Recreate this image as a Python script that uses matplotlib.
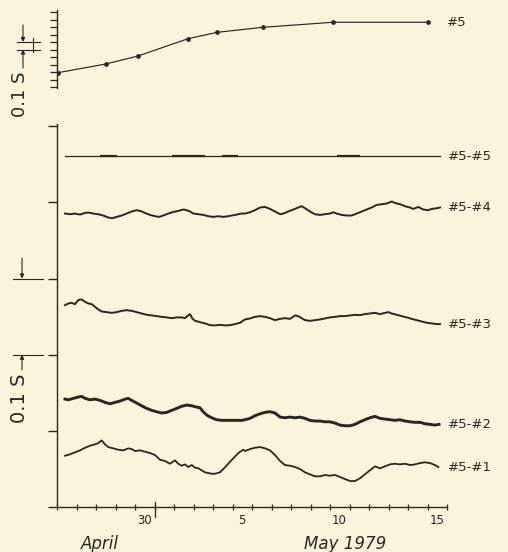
import matplotlib.pyplot as plt
from matplotlib.transforms import ScaledTranslation, blended_transform_factory

# x: days counted from 30 April 1979 (0 = Apr 30, 5 = May 5 ...)
# y: delay in milliseconds (top panel: station #5, bottom: differences)

station5_day = [-4.95, -2.49, -0.85, 1.72, 3.21, 5.56, 9.15, 14.03]
station5_ms = [191, 307, 413, 644, 729, 796, 863, 863]

diff55_level = 460.6
diff55_span = [-4.59, 14.64]
diff55_thick_start = [-2.79, 0.90, 3.46, 9.36]
diff55_thick_end = [-1.92, 2.59, 4.28, 10.54]

diff54_day = [-4.59, -4.33, -4.08, -3.82, -3.56, -3.39, -3.14, -2.88, -2.63, -2.37,
              -2.16, -1.94, -1.68, -1.43, -1.17, -0.91, -0.69, -0.49, -0.23, 0.03,
              0.23, 0.45, 0.71, 0.96, 1.22, 1.48, 1.65, 1.82, 1.99, 2.25,
              2.50, 2.76, 3.02, 3.27, 3.53, 3.78, 4.13, 4.47,
              4.64, 4.90, 5.15, 5.41, 5.67, 5.92, 6.18, 6.44, 6.61, 6.86,
              7.12, 7.37, 7.55, 7.72, 7.97, 8.23, 8.49, 8.74, 9.00, 9.17,
              9.34, 9.60, 9.86, 10.11, 10.37, 10.63, 10.88, 11.14, 11.39, 11.65,
              11.91, 12.16, 12.33, 12.59, 12.85, 13.10, 13.27, 13.53, 13.78, 14.04,
              14.22, 14.47, 14.64]
diff54_ms = [385.4, 384.5, 385.4, 384.1, 386.2, 386.7, 385.4, 384.5, 382.8, 380.2,
             379.3, 381.0, 382.8, 385.4, 388.1, 389.8, 388.5, 386.2, 383.6, 381.9,
             381.0, 382.8, 385.4, 387.5, 388.8, 390.7, 389.8, 388.1, 385.4, 384.5,
             383.6, 381.9, 381.0, 381.9, 381.0, 381.9, 383.6, 385.4,
             385.4, 387.1, 389.8, 393.3, 394.1, 391.5, 388.1, 384.5, 385.4, 388.1,
             390.7, 393.3, 395.0, 392.4, 388.1, 384.5, 383.6, 384.5, 385.4, 387.1,
             385.4, 383.6, 382.8, 382.8, 385.4, 388.1, 390.7, 393.3, 396.7, 397.6,
             398.6, 401.2, 399.3, 397.6, 395.0, 393.3, 391.5, 394.1, 390.7, 389.8,
             391.5, 392.4, 393.3]

diff53_day = [-4.59, -4.42, -4.25, -4.08, -3.91, -3.74, -3.56, -3.39, -3.22, -3.05,
              -2.88, -2.71, -2.45, -2.19, -1.94, -1.68, -1.43, -1.17, -0.91, -0.66,
              -0.40, -0.14, 0.11, 0.37, 0.63, 0.88, 1.14, 1.39, 1.56, 1.73,
              1.82, 1.94, 2.08, 2.33, 2.59, 2.85, 3.10, 3.36, 3.62, 3.87,
              4.13, 4.38,
              4.64, 4.90, 5.15, 5.41, 5.67, 5.92, 6.18, 6.44, 6.69, 6.95,
              7.21, 7.37, 7.55, 7.72, 7.97, 8.23, 8.49, 8.74, 9.00, 9.26,
              9.51, 9.77, 10.03, 10.28, 10.54, 10.79, 11.05, 11.31, 11.56, 11.82,
              11.99, 12.16, 12.42, 12.68, 12.93, 13.19, 13.44, 13.70, 13.96, 14.22,
              14.47, 14.64]
diff53_ms = [265.1, 267.3, 268.1, 266.4, 271.7, 272.6, 269.4, 267.3, 266.4, 262.9,
             259.4, 256.8, 255.9, 255.0, 255.9, 257.6, 258.5, 257.6, 255.9, 254.2,
             252.4, 251.6, 250.7, 249.7, 249.0, 248.0, 249.0, 249.0, 248.0, 251.6,
             253.3, 247.6, 244.5, 242.8, 241.1, 238.8, 238.5, 239.2, 238.5, 238.8,
             240.2, 241.9,
             246.3, 247.6, 249.7, 250.7, 249.7, 248.0, 245.4, 247.1, 248.0, 247.1,
             251.6, 250.7, 248.0, 245.4, 244.5, 245.4, 246.3, 247.6, 249.0, 249.7,
             250.7, 250.7, 251.6, 252.4, 252.0, 253.3, 254.2, 255.0, 253.3, 255.0,
             255.9, 254.2, 252.4, 250.7, 249.0, 247.1, 245.4, 243.7, 241.9, 241.1,
             240.2, 240.2]

diff52_day = [-4.59, -4.42, -4.16, -3.91, -3.74, -3.56, -3.31, -3.05, -2.79, -2.54,
              -2.28, -2.03, -1.77, -1.51, -1.34, -1.17, -0.91, -0.66, -0.40, -0.14,
              0.11, 0.37, 0.63, 0.88, 1.14, 1.39, 1.65, 1.91, 2.16, 2.33,
              2.50, 2.68, 2.93, 3.19, 3.45, 3.78, 4.13, 4.47,
              4.64, 4.90, 5.15, 5.41, 5.67, 5.92, 6.18, 6.44, 6.69, 6.95,
              7.21, 7.46, 7.72, 7.97, 8.23, 8.49, 8.74, 9.00, 9.26, 9.51,
              9.77, 10.03, 10.28, 10.54, 10.79, 11.05, 11.31, 11.56, 11.82, 12.08,
              12.33, 12.59, 12.85, 13.10, 13.36, 13.62, 13.87, 14.13, 14.38, 14.59]
diff52_ms = [141.7, 140.8, 142.7, 144.4, 145.3, 142.7, 140.8, 141.7, 140.0, 137.4,
             135.6, 137.4, 139.1, 141.7, 142.7, 140.0, 136.5, 132.9, 129.5, 126.9,
             125.1, 123.4, 124.3, 126.9, 129.5, 132.2, 133.9, 132.9, 131.2, 130.3,
             125.1, 120.7, 117.2, 114.6, 113.8, 113.8, 113.8, 113.8,
             114.6, 116.4, 119.8, 122.4, 124.3, 125.1, 123.4, 118.1, 117.2, 118.1,
             117.2, 118.1, 116.4, 113.8, 112.9, 112.9, 111.9, 111.9, 110.2, 107.6,
             106.7, 106.7, 108.5, 111.9, 114.6, 117.2, 119.0, 116.4, 115.5, 114.6,
             113.8, 114.6, 112.9, 111.9, 111.2, 111.2, 109.3, 108.5, 107.6, 108.5]

diff51_day = [-4.59, -4.33, -4.08, -3.82, -3.56, -3.31, -3.05, -2.88, -2.71, -2.54,
              -2.37, -2.11, -1.86, -1.60, -1.34, -1.17, -1.00, -0.74, -0.49, -0.23,
              0.03, 0.28, 0.54, 0.79, 1.05, 1.22, 1.39, 1.56, 1.73, 1.91,
              2.08, 2.25, 2.42, 2.59, 2.76, 2.93, 3.10, 3.36, 3.53, 3.78,
              4.04, 4.30, 4.55,
              4.64, 4.90, 5.15, 5.41, 5.67, 5.92, 6.18, 6.44, 6.69, 6.95,
              7.21, 7.46, 7.72, 7.97, 8.23, 8.49, 8.74, 9.00, 9.26, 9.51,
              9.77, 10.03, 10.28, 10.54, 10.79, 11.05, 11.31, 11.56, 11.82, 12.08,
              12.33, 12.59, 12.85, 13.10, 13.36, 13.62, 13.87, 14.13, 14.38, 14.56]
diff51_ms = [67.3, 69.2, 71.8, 74.4, 77.8, 80.4, 82.3, 84.0, 87.5, 82.3,
             78.7, 77.0, 75.2, 74.4, 77.0, 76.1, 73.5, 74.4, 72.6, 70.9,
             68.2, 62.1, 60.4, 56.8, 61.3, 56.8, 54.2, 56.0, 52.5, 55.1,
             51.6, 50.8, 48.2, 45.5, 44.6, 43.7, 43.7, 45.5, 49.9, 56.8,
             63.9, 70.9, 75.2,
             73.5, 76.1, 77.8, 78.7, 77.0, 74.4, 68.2, 60.4, 55.1, 54.2,
             52.5, 49.9, 45.5, 42.9, 40.3, 40.3, 42.0, 41.1, 42.0, 39.4,
             36.7, 34.1, 34.1, 37.7, 42.9, 48.2, 53.4, 50.8, 53.4, 56.0,
             56.8, 56.0, 56.8, 55.1, 56.0, 57.7, 58.7, 57.7, 55.1, 52.5]

day_ticks = [0, 5, 10, 15]
day_tick_labels = ["30", "5", "10", "15"]
month_labels = ["April", "May 1979"]
month_label_day = [-2.8, 9.77]

paper = "#fbf4dc"
ink = "#2a2622"

W, H = 508, 552
fig = plt.figure(figsize=(W / 100, H / 100), dpi=100, facecolor=paper)


def px_axes(left, top, right, bottom):
    return fig.add_axes([left / W, 1 - bottom / H, (right - left) / W, (bottom - top) / H])


ax_top = px_axes(57, 10, 447, 88)
ax = px_axes(57, 124, 447, 507)

for a in (ax_top, ax):
    a.set_facecolor("none")
    a.set_xlim(-5, 15)
    for s in a.spines.values():
        s.set_color(ink)
        s.set_linewidth(1.0)
    a.spines["top"].set_visible(False)
    a.spines["right"].set_visible(False)

# ---- top panel: station #5
ax_top.spines["bottom"].set_visible(False)
ax_top.set_ylim(-13.3, 1026.7)
ax_top.set_xticks([])
ax_top.set_yticks(range(0, 1001, 100))
ax_top.tick_params(axis="y", direction="out", length=5, width=0.9, color=ink, labelleft=False)
ax_top.plot(station5_day, station5_ms, color=ink, lw=0.85, marker="o", ms=2.4)
ax_top.text(15.0, station5_ms[-1], "#5", ha="left", va="center", fontsize=9.5, color=ink)

# ---- bottom panel: differences
ax.set_ylim(0, 503)
ax.set_yticks(range(0, 501, 100))
ax.tick_params(axis="y", direction="out", length=6.5, width=1.0, color=ink, labelleft=False)
ax.set_xticks(range(-5, 16), minor=True)
ax.set_xticks(day_ticks, day_tick_labels)
ax.tick_params(axis="x", which="both", direction="inout", length=5, width=0.9, color=ink,
               labelsize=8.5, labelcolor=ink, pad=2.5)
for lbl in ax.get_xticklabels():
    lbl.set_transform(lbl.get_transform() + ScaledTranslation(-0.10, 0, fig.dpi_scale_trans))
# longer tick at the month boundary
ax.axvline(0, ymin=-10 / 383, ymax=5 / 383, color=ink, lw=0.9, clip_on=False)

xt = ax.get_xaxis_transform()
for name, d in zip(month_labels, month_label_day):
    ax.text(d, -0.097, name, transform=xt, ha="center", va="center",
            fontsize=12, style="italic", color=ink)

ax.plot(diff55_span, [diff55_level, diff55_level], color=ink, lw=0.9)
ax.hlines([diff55_level] * len(diff55_thick_start), diff55_thick_start, diff55_thick_end,
          color=ink, lw=1.6)
ax.plot(diff54_day, diff54_ms, color=ink, lw=1.4, solid_joinstyle="round")
ax.plot(diff53_day, diff53_ms, color=ink, lw=1.4, solid_joinstyle="round")
ax.plot(diff52_day, diff52_ms, color=ink, lw=2.1, solid_joinstyle="round")
ax.plot(diff51_day, diff51_ms, color=ink, lw=1.3, solid_joinstyle="round")

label_names = ["#5-#5", "#5-#4", "#5-#3", "#5-#2", "#5-#1"]
label_levels = [diff55_level, diff54_ms[-1], diff53_ms[-1], diff52_ms[-1], diff51_ms[-1]]
for name, lev in zip(label_names, label_levels):
    ax.text(15.05, lev, name, ha="left", va="center", fontsize=9.5, color=ink)


# ---- 0.1 s scale marks on the left
def scale_mark(a, lo, hi, line_x, arrow_x, top_from, bottom_from, text_y, size, tick_x=None):
    tr = blended_transform_factory(a.transAxes, a.transData)
    for v in (lo, hi):
        a.plot(line_x, [v, v], transform=tr, color=ink, lw=0.8, clip_on=False)
    arrow = dict(arrowstyle="-|>", color=ink, lw=0.8, mutation_scale=6, shrinkA=0, shrinkB=0)
    a.annotate("", xy=(arrow_x, hi), xytext=(arrow_x, top_from),
               xycoords=("axes fraction", "data"), textcoords=("axes fraction", "data"),
               arrowprops=arrow, annotation_clip=False)
    a.annotate("", xy=(arrow_x, lo), xytext=(arrow_x, bottom_from),
               xycoords=("axes fraction", "data"), textcoords=("axes fraction", "data"),
               arrowprops=arrow, annotation_clip=False)
    if tick_x is not None:
        a.plot([tick_x, tick_x], [lo - 33, hi + 53], transform=tr, color=ink, lw=0.8, clip_on=False)
    a.text(-0.095, text_y, "0.1 S", transform=tr, rotation=90, ha="center", va="center",
           fontsize=size, color=ink)


scale_mark(ax_top, 500, 600, [-0.1026, -0.0436], -0.0872, 827, 253, -100, 13, tick_x=-0.0615)
scale_mark(ax, 200, 300, [-0.1128, -0.0359], -0.0897, 327, 180, 143, 14)

fig.savefig("out.png", dpi=100, facecolor=paper)
